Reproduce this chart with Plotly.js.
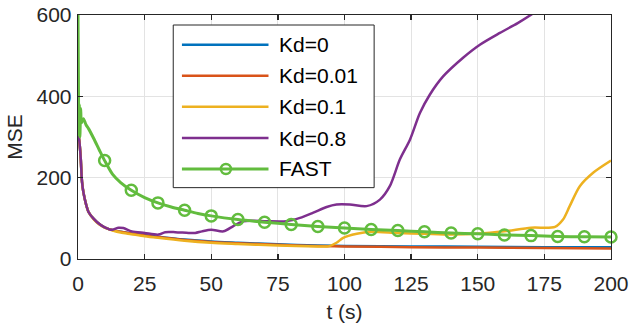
<!DOCTYPE html>
<html>
<head>
<meta charset="utf-8">
<script src="https://cdn.plot.ly/plotly-3.0.1.min.js"></script>
<style>html,body{margin:0;padding:0;background:#fff;}#chart{width:630px;height:324px;}</style>
</head>
<body>
<div id="chart"></div>
<script>
// ---- data ----
const seriesNames = ["Kd=0", "Kd=0.01", "Kd=0.1", "Kd=0.8", "FAST"];

const tKd0  = [0, 0.5, 1, 1.5, 2, 3, 4, 6, 8, 10, 13, 16, 20, 25, 30, 40, 50, 60, 75, 90, 100, 125, 150, 175, 200];
const yKd0  = [310, 290, 250, 190, 165, 135, 115, 98, 86, 78, 71, 67, 63, 59, 55, 48, 43, 40, 36, 33, 32, 31, 30, 29, 29];

const tKd001 = [0, 0.5, 1, 1.5, 2, 3, 4, 6, 8, 10, 13, 16, 20, 25, 30, 40, 50, 60, 75, 90, 100, 125, 150, 175, 200];
const yKd001 = [310, 290, 250, 190, 165, 135, 115, 98, 86, 78, 71, 67, 63, 58, 54, 47, 42, 39, 35, 32, 31, 29, 28, 27, 26];

const tKd01 = [0, 0.5, 1, 1.5, 2, 3, 4, 6, 8, 10, 13, 16, 20, 25, 30, 40, 50, 60, 75, 90, 94, 97, 99.5, 104.6, 109.6, 120, 130, 140, 150, 160, 170, 179, 182, 184.5, 188.3, 193.3, 200];
const yKd01 = [310, 290, 250, 190, 165, 135, 115, 97, 85, 77, 70, 65, 61, 56, 52, 45, 40, 37, 33, 31, 31, 40, 52, 62, 67, 64, 62, 60, 62, 68, 77, 79, 97, 130, 179, 212, 242];

const tKd08 = [0, 0.5, 1, 1.5, 2, 3, 4, 6, 8, 10, 12.7, 15.2, 17, 20.2, 25, 30.2, 32.7, 36.5, 41.5, 44, 46.5, 50, 54.6, 58.3, 62, 66, 70.8, 78.3, 83.3, 88.3, 93.3, 97, 102, 108.3, 113.3, 117, 120.8, 124.6, 128.3, 132, 137, 144.5, 150.8, 158.3, 165, 170.8];
const yKd08 = [310, 290, 250, 190, 165, 135, 115, 98, 86, 78, 72, 77, 76, 68, 64, 60, 66, 66, 64, 64, 68, 72, 68, 81, 93, 94, 93, 93, 101, 114, 128, 134, 134, 130, 146, 179, 245, 294, 359, 404, 449, 495, 527, 556, 580, 604];

const tFast = [0, 0.15, 0.3, 0.5, 0.7, 1.0, 1.3, 2, 3, 4, 6, 8, 10, 13, 16, 20, 25, 30, 35, 40, 45, 50, 60, 70, 80, 90, 100, 110, 120, 130, 140, 150, 160, 170, 180, 190, 200];
const yFast = [600, 450, 305, 380, 300, 370, 335, 345, 330, 320, 295, 268, 242, 208, 188, 169, 151, 138, 128, 120, 112, 106, 97, 90.5, 85, 80, 76, 72.5, 70, 67, 64, 62, 59, 57.5, 55.5, 54.5, 54];

const tFastMarkers = [10, 20, 30, 40, 50, 60, 70, 80, 90, 100, 110, 120, 130, 140, 150, 160, 170, 180, 190, 200];
const yFastMarkers = [242, 169, 138, 120, 106, 97, 90.5, 85, 80, 76, 72.5, 70, 67, 64, 62, 59, 57.5, 55.5, 54.5, 54];

const xTicks = [0, 25, 50, 75, 100, 125, 150, 175, 200];
const yTicks = [0, 200, 400, 600];

// ---- styling ----
const colors = ["#0072BD", "#D95319", "#EDB120", "#7E2F8E", "#62bc3e"];
const font = "Liberation Sans, Arial, Helvetica, sans-serif";
const ink = "#262626";

const smooth = {shape: "spline", smoothing: 0.8};
const traces = [
  {x: tKd0, y: yKd0, name: seriesNames[0], mode: "lines", line: Object.assign({color: colors[0], width: 2.5}, smooth)},
  {x: tKd001, y: yKd001, name: seriesNames[1], mode: "lines", line: Object.assign({color: colors[1], width: 2.5}, smooth)},
  {x: tKd01, y: yKd01, name: seriesNames[2], mode: "lines", line: Object.assign({color: colors[2], width: 2.5}, smooth)},
  {x: tKd08, y: yKd08, name: seriesNames[3], mode: "lines", line: Object.assign({color: colors[3], width: 2.5}, smooth)},
  {x: tFast, y: yFast, name: seriesNames[4], mode: "lines", line: Object.assign({color: colors[4], width: 3}, smooth)},
  {x: tFastMarkers, y: yFastMarkers, name: seriesNames[4], mode: "markers", cliponaxis: false,
   marker: {symbol: "circle-open", size: 11, color: colors[4], line: {width: 2.5, color: colors[4]}}}
];

// custom MATLAB-style legend (paper coordinates)
const legRows = [0.8785, 0.7509, 0.6237, 0.4957, 0.3689];
const shapes = [{type: "rect", xref: "paper", yref: "paper", x0: 0.1787, x1: 0.5556, y0: 0.2924, y1: 0.959,
  line: {color: ink, width: 1}, fillcolor: "#ffffff", layer: "above"}];
const annotations = [];
seriesNames.forEach((n, i) => {
  shapes.push({type: "line", xref: "paper", yref: "paper", x0: 0.195, x1: 0.3574, y0: legRows[i], y1: legRows[i],
    line: {color: colors[i], width: i === 4 ? 3 : 2.5}, layer: "above"});
  annotations.push({xref: "paper", yref: "paper", x: 0.3735, y: legRows[i], xanchor: "left", yanchor: "middle",
    text: n, showarrow: false, font: {family: font, size: 21, color: "#000"}});
});
shapes.push({type: "circle", xref: "paper", yref: "paper", xsizemode: "pixel", ysizemode: "pixel",
  xanchor: 0.2775, yanchor: legRows[4], x0: -5, x1: 5, y0: -5, y1: 5,
  line: {color: colors[4], width: 2.5}, fillcolor: "rgba(0,0,0,0)", layer: "above"});

const axisCommon = {
  showline: true, mirror: "ticks", linecolor: ink, linewidth: 1.3,
  ticks: "inside", ticklen: 5, tickcolor: ink, tickwidth: 1.3,
  showgrid: true, gridcolor: "#e3e3e3", gridwidth: 1, zeroline: false,
  tickfont: {family: font, size: 21, color: ink}
};

const layout = {
  width: 630, height: 324,
  margin: {l: 78, r: 19, t: 15, b: 64.5},
  paper_bgcolor: "#ffffff", plot_bgcolor: "#ffffff",
  showlegend: false,
  xaxis: Object.assign({}, axisCommon, {range: [0, 200], tickvals: xTicks, ticktext: xTicks.map(String),
    ticklabelstandoff: 5,
    title: {text: "t (s)", font: {family: font, size: 21, color: ink}, standoff: 10}}),
  yaxis: Object.assign({}, axisCommon, {range: [0, 600], tickvals: yTicks, ticktext: yTicks.map(String),
    ticklabelstandoff: 1,
    title: {text: "MSE", font: {family: font, size: 21, color: ink}, standoff: 8}}),
  shapes: shapes,
  annotations: annotations
};

Plotly.newPlot("chart", traces, layout, {staticPlot: true, displayModeBar: false});
</script>
</body>
</html>
